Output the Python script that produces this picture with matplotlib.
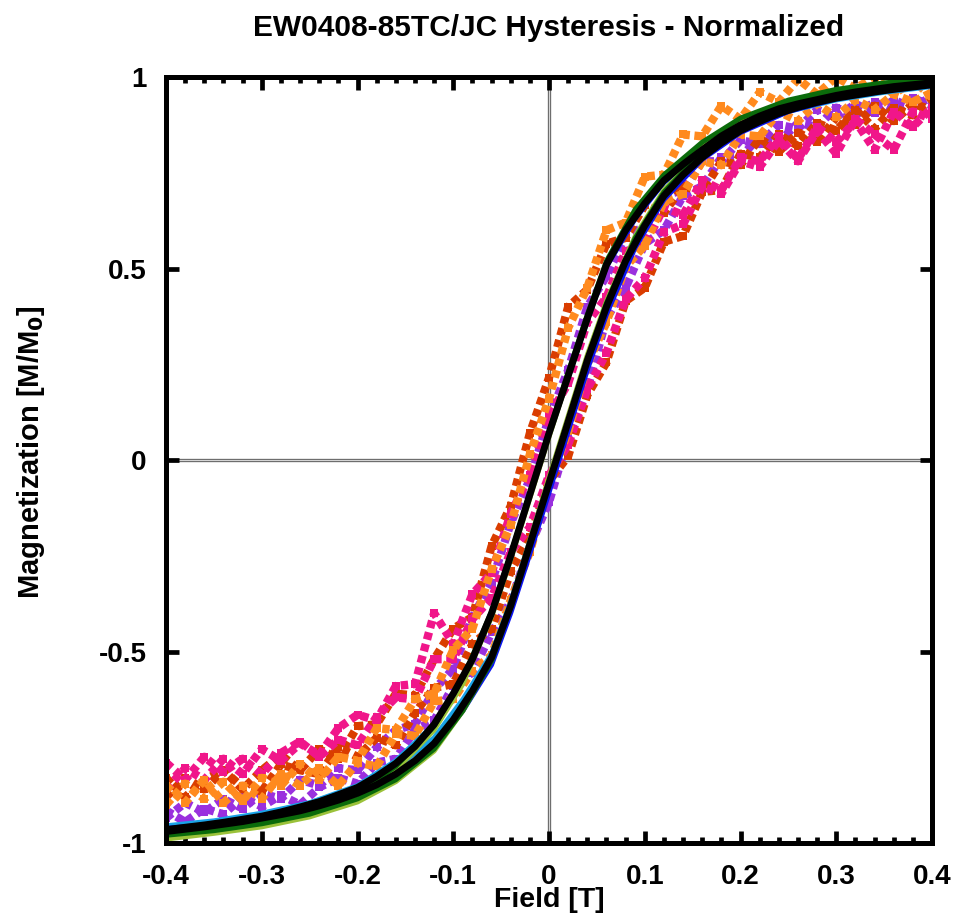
import matplotlib
matplotlib.use("Agg")
import matplotlib.pyplot as plt

# field grid for the noisy loops and for the black loop [T]
field = [-0.40, -0.38, -0.36, -0.34, -0.32, -0.30, -0.28, -0.26, -0.24, -0.22,
         -0.20, -0.18, -0.16, -0.14, -0.12, -0.10, -0.08, -0.06, -0.04, -0.02,
         0.00, 0.02, 0.04, 0.06, 0.08, 0.10, 0.12, 0.14, 0.16, 0.18,
         0.20, 0.22, 0.24, 0.26, 0.28, 0.30, 0.32, 0.34, 0.36, 0.38, 0.40]

# coarser field grid for the smooth loops
field_s = [-0.40, -0.35, -0.30, -0.25, -0.20, -0.16, -0.12, -0.09, -0.06, -0.04, -0.02,
           0.00, 0.02, 0.04, 0.06, 0.09, 0.12, 0.16, 0.20, 0.25, 0.30, 0.35, 0.40]

# noisy samples (up = increasing field branch, down = decreasing field branch)
red_up = [-0.83, -0.88, -0.835, -0.81, -0.855, -0.865, -0.795, -0.81, -0.82, -0.75,
          -0.775, -0.725, -0.745, -0.66, -0.595, -0.585, -0.48, -0.44, -0.29, -0.20,
          -0.055, 0.01, 0.17, 0.255, 0.415, 0.45, 0.57, 0.585, 0.70, 0.705,
          0.80, 0.79, 0.85, 0.82, 0.88, 0.86, 0.915, 0.865, 0.92, 0.90, 0.945]
red_down = [-0.88, -0.83, -0.86, -0.81, -0.86, -0.81, -0.77, -0.81, -0.755, -0.78,
            -0.695, -0.69, -0.61, -0.615, -0.52, -0.44, -0.41, -0.225, -0.12, 0.07,
            0.215, 0.40, 0.445, 0.565, 0.58, 0.665, 0.645, 0.715, 0.70, 0.78,
            0.77, 0.84, 0.805, 0.855, 0.83, 0.895, 0.875, 0.925, 0.885, 0.93, 0.915]

pink_up = [-0.79, -0.835, -0.775, -0.815, -0.78, -0.82, -0.765, -0.735, -0.775, -0.73,
           -0.745, -0.67, -0.62, -0.625, -0.52, -0.52, -0.415, -0.36, -0.24, -0.175,
           -0.04, 0.04, 0.185, 0.28, 0.42, 0.475, 0.595, 0.615, 0.715, 0.695,
           0.78, 0.765, 0.835, 0.78, 0.86, 0.80, 0.89, 0.85, 0.81, 0.91, 0.89]
pink_down = [-0.86, -0.805, -0.835, -0.78, -0.82, -0.755, -0.785, -0.74, -0.77, -0.70,
             -0.665, -0.68, -0.59, -0.585, -0.40, -0.48, -0.35, -0.295, -0.14, -0.04,
             0.115, 0.20, 0.36, 0.425, 0.545, 0.56, 0.66, 0.64, 0.73, 0.705,
             0.79, 0.78, 0.845, 0.785, 0.87, 0.83, 0.885, 0.81, 0.91, 0.87, 0.92]

purple_up = [-0.915, -0.945, -0.91, -0.925, -0.88, -0.905, -0.875, -0.90, -0.855, -0.83,
             -0.845, -0.79, -0.78, -0.705, -0.68, -0.59, -0.555, -0.45, -0.37, -0.225,
             -0.11, 0.06, 0.185, 0.37, 0.45, 0.565, 0.60, 0.69, 0.715, 0.79,
             0.79, 0.845, 0.83, 0.88, 0.87, 0.92, 0.90, 0.935, 0.91, 0.945, 0.925]
purple_down = [-0.935, -0.895, -0.92, -0.885, -0.91, -0.87, -0.885, -0.835, -0.85, -0.805,
               -0.81, -0.75, -0.705, -0.69, -0.60, -0.545, -0.41, -0.32, -0.165, -0.05,
               0.11, 0.235, 0.40, 0.48, 0.585, 0.61, 0.69, 0.705, 0.78, 0.78,
               0.835, 0.825, 0.875, 0.865, 0.915, 0.895, 0.93, 0.905, 0.94, 0.92, 0.95]

orange_up = [-0.85, -0.895, -0.835, -0.895, -0.85, -0.885, -0.82, -0.85, -0.805, -0.85,
             -0.79, -0.80, -0.715, -0.72, -0.63, -0.625, -0.55, -0.51, -0.365, -0.24,
             -0.06, 0.075, 0.25, 0.36, 0.505, 0.56, 0.675, 0.695, 0.78, 0.77,
             0.85, 0.845, 0.91, 0.885, 0.93, 0.895, 0.94, 0.915, 0.955, 0.935, 0.96]
orange_down = [-0.90, -0.845, -0.885, -0.84, -0.89, -0.83, -0.85, -0.795, -0.835, -0.775,
               -0.785, -0.70, -0.705, -0.625, -0.61, -0.495, -0.44, -0.285, -0.17, 0.015,
               0.16, 0.345, 0.45, 0.60, 0.62, 0.74, 0.745, 0.85, 0.845, 0.925,
               0.89, 0.96, 0.935, 0.995, 0.955, 1.0, 0.97, 1.0, 0.955, 0.99, 0.95]

# black loop (on the fine grid)
black_up = [-0.970, -0.964, -0.958, -0.951, -0.944, -0.935, -0.926, -0.916, -0.903, -0.888,
            -0.870, -0.848, -0.820, -0.785, -0.740, -0.678, -0.603, -0.515, -0.380, -0.220,
            -0.060, 0.100, 0.260, 0.400, 0.520, 0.612, 0.690, 0.745, 0.790, 0.828,
            0.860, 0.884, 0.905, 0.921, 0.934, 0.945, 0.953, 0.961, 0.968, 0.974, 0.980]
black_down = [-0.965, -0.959, -0.953, -0.946, -0.938, -0.930, -0.919, -0.906, -0.892, -0.874,
              -0.855, -0.826, -0.792, -0.748, -0.690, -0.610, -0.520, -0.400, -0.250, -0.090,
              0.070, 0.220, 0.370, 0.510, 0.600, 0.670, 0.730, 0.772, 0.810, 0.846,
              0.875, 0.898, 0.917, 0.930, 0.941, 0.952, 0.961, 0.968, 0.975, 0.980, 0.985]

# smooth loops (coarse grid)
green_up = [-0.98, -0.968, -0.95, -0.925, -0.885, -0.835, -0.755, -0.655, -0.525, -0.385, -0.225,
            -0.06, 0.10, 0.265, 0.41, 0.58, 0.70, 0.805, 0.875, 0.93, 0.96, 0.978, 0.99]
green_down = [-0.975, -0.962, -0.945, -0.915, -0.87, -0.80, -0.695, -0.57, -0.395, -0.245, -0.085,
              0.075, 0.23, 0.38, 0.52, 0.655, 0.745, 0.83, 0.893, 0.94, 0.968, 0.985, 0.995]
yellow_up = [-0.99, -0.975, -0.958, -0.932, -0.893, -0.84, -0.76, -0.655, -0.52, -0.375, -0.21,
             -0.045, 0.115, 0.275, 0.415, 0.585, 0.705, 0.805, 0.872, 0.925, 0.955, 0.975, 0.99]
yellow_down = [-0.985, -0.97, -0.95, -0.922, -0.875, -0.81, -0.705, -0.585, -0.41, -0.26, -0.10,
               0.06, 0.215, 0.37, 0.515, 0.65, 0.74, 0.82, 0.885, 0.935, 0.963, 0.98, 0.99]
blue_up = [-0.965, -0.952, -0.932, -0.905, -0.868, -0.822, -0.75, -0.655, -0.535, -0.40, -0.245,
           -0.085, 0.075, 0.235, 0.38, 0.555, 0.68, 0.785, 0.855, 0.91, 0.943, 0.963, 0.978]
blue_down = [-0.962, -0.95, -0.932, -0.905, -0.858, -0.795, -0.695, -0.58, -0.405, -0.255, -0.095,
             0.065, 0.215, 0.365, 0.505, 0.63, 0.725, 0.805, 0.87, 0.92, 0.95, 0.97, 0.983]
cyan_up = [-0.955, -0.942, -0.922, -0.895, -0.855, -0.805, -0.725, -0.625, -0.505, -0.37, -0.21,
           -0.05, 0.11, 0.27, 0.41, 0.575, 0.69, 0.79, 0.86, 0.91, 0.94, 0.96, 0.975]
cyan_down = [-0.958, -0.945, -0.925, -0.895, -0.85, -0.785, -0.69, -0.575, -0.405, -0.255, -0.095,
             0.065, 0.215, 0.365, 0.505, 0.635, 0.725, 0.805, 0.872, 0.92, 0.948, 0.967, 0.98]

plt.rcParams['font.family'] = ['Liberation Sans', 'DejaVu Sans']
plt.rcParams['font.weight'] = 'bold'

fig = plt.figure(figsize=(9.57, 9.16), dpi=100)
ax = fig.add_axes([0.1735, 0.0797, 0.8004, 0.8362])

# zero lines (thin double grey)
ax.axhline(0, color='#6e6e6e', lw=2.4, zorder=1)
ax.axhline(0, color='#d8d8d8', lw=0.7, zorder=1)
ax.axvline(0, color='#6e6e6e', lw=2.4, zorder=1)
ax.axvline(0, color='#d8d8d8', lw=0.7, zorder=1)

# noisy loops, drawn as chunky dashes
noisy = [(purple_up, purple_down, '#9a30de'),
         (red_up, red_down, '#da3d00'),
         (pink_up, pink_down, '#f0168a'),
         (orange_up, orange_down, '#ff8a1e')]
for up, down, col in noisy:
    for m in (up, down):
        ax.plot(field, m, color=col, lw=6, dashes=(0.9, 0.55), zorder=2,
                marker='s', markersize=6, markeredgewidth=0)

# smooth loops under the black one
smooth = [(cyan_up, cyan_down, '#1aa3e8'),
          (blue_up, blue_down, '#0a14f0'),
          (yellow_up, yellow_down, '#9bc23a'),
          (green_up, green_down, '#0b6b0b')]
for up, down, col in smooth:
    for m in (up, down):
        ax.plot(field_s, m, color=col, lw=3.5, zorder=3)

ax.plot(field, black_up, color='black', lw=5, zorder=4)
ax.plot(field, black_down, color='black', lw=5, zorder=4)

ax.set_xlim(-0.4, 0.4)
ax.set_ylim(-1, 1)
ax.set_xticks([-0.4, -0.3, -0.2, -0.1, 0, 0.1, 0.2, 0.3, 0.4])
ax.set_xticklabels(['-0.4', '-0.3', '-0.2', '-0.1', '0', '0.1', '0.2', '0.3', '0.4'])
ax.set_xticks([-0.38 + 0.02 * i for i in range(39)], minor=True)
ax.set_yticks([-1, -0.5, 0, 0.5, 1])
ax.set_yticklabels(['-1', '-0.5', '0', '0.5', '1'])

ax.set_axisbelow(False)
for s in ax.spines.values():
    s.set_linewidth(3.6)
    s.set_zorder(6)
ax.tick_params(which='both', direction='in', top=True, right=True, width=3.4, zorder=6)
ax.tick_params(which='major', length=9, labelsize=20, pad=15)
ax.tick_params(axis='y', which='major', pad=14)
ax.tick_params(which='minor', length=4.5)

ax.set_xlabel('Field [T]', fontsize=20.5, fontweight='bold')
ax.xaxis.set_label_coords(0.5, -0.058)
ax.set_ylabel('Magnetization [M/M$_\\mathbf{0}$]', fontsize=21, fontweight='bold')
ax.yaxis.set_label_coords(-0.155, 0.51)

fig.text(0.5737, 1 - 28 / 916, 'EW0408-85TC/JC Hysteresis - Normalized',
         ha='center', va='center', fontsize=21.5, fontweight='bold')

fig.savefig('out.png', dpi=100)
